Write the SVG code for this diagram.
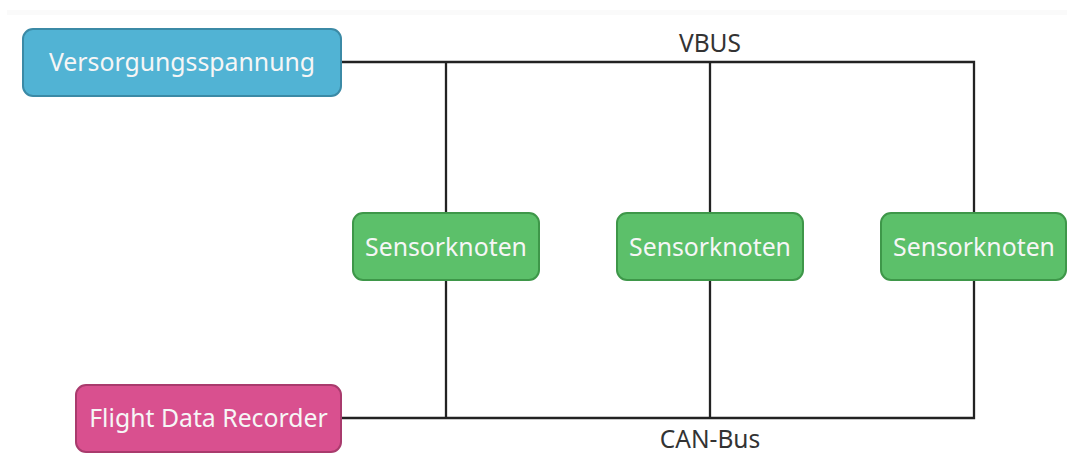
<svg xmlns="http://www.w3.org/2000/svg" width="1067" height="459" viewBox="0 0 1067 459">
<style>
.node{stroke-width:2}
.t{font-family:"Noto Sans","Open Sans",sans-serif;font-size:24.8px;text-anchor:middle;fill:#f6f6f6}
.lbl{font-family:"Noto Sans","Open Sans",sans-serif;font-size:24.5px;text-anchor:middle;fill:#333}
.wire{fill:none;stroke:#222;stroke-width:2.3}
</style>
<rect width="1067" height="459" fill="#ffffff"/>
<rect x="7" y="10" width="1060" height="5" fill="#fafafa"/>
<g id="connectors">
<path class="wire" d="M341,62 H974 V213"/>
<path class="wire" d="M446,62 V213"/>
<path class="wire" d="M710,62 V213"/>
<path class="wire" d="M341,418 H974 V280"/>
<path class="wire" d="M446,418 V280"/>
<path class="wire" d="M710,418 V280"/>
<text class="lbl" x="710" y="52">VBUS</text>
<text class="lbl" x="710" y="448">CAN-Bus</text>
</g>
<g id="versorgung">
<rect class="node" x="23" y="29" width="318" height="67" rx="10" fill="#51b3d4" stroke="#3b8aa6"/>
<text class="t" x="182" y="71">Versorgungsspannung</text>
</g>
<g id="fdr">
<rect class="node" x="76" y="385" width="265" height="67" rx="10" fill="#d9508f" stroke="#a93b6d"/>
<text class="t" x="208.5" y="427">Flight Data Recorder</text>
</g>
<g id="sensor1">
<rect class="node" x="353" y="213" width="186" height="67" rx="10" fill="#5cc06a" stroke="#3e9749"/>
<text class="t" x="446" y="255.5">Sensorknoten</text>
</g>
<g id="sensor2">
<rect class="node" x="617" y="213" width="186" height="67" rx="10" fill="#5cc06a" stroke="#3e9749"/>
<text class="t" x="710" y="255.5">Sensorknoten</text>
</g>
<g id="sensor3">
<rect class="node" x="881" y="213" width="185" height="67" rx="10" fill="#5cc06a" stroke="#3e9749"/>
<text class="t" x="974" y="255.5">Sensorknoten</text>
</g>
</svg>
